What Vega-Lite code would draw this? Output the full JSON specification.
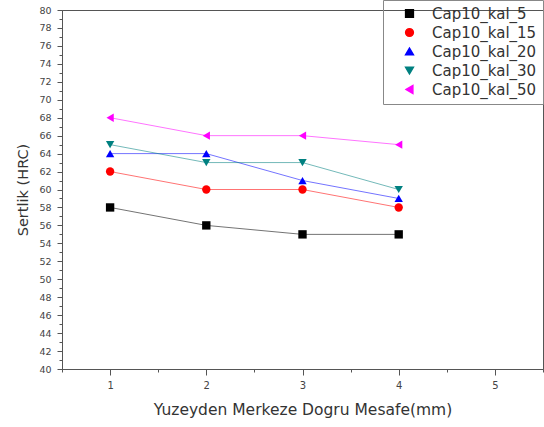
{
  "$schema": "https://vega.github.io/schema/vega-lite/v6.json",
  "autosize": "none",
  "width": 481,
  "height": 359,
  "padding": {"left": 62, "top": 10, "right": 1, "bottom": 58},
  "background": "white",
  "config": {
    "font": "DejaVu Sans",
    "view": {"stroke": "#555", "strokeWidth": 1},
    "axis": {"domainColor": "#555", "tickColor": "#555", "labelColor": "#444", "titleColor": "#333", "labelFont": "DejaVu Sans", "titleFont": "DejaVu Sans", "titleFontWeight": "normal", "grid": false}
  },
  "data": {"values": [
    {"x": 1, "y": 58, "s": "Cap10_kal_5"}, {"x": 2, "y": 56, "s": "Cap10_kal_5"}, {"x": 3, "y": 55, "s": "Cap10_kal_5"}, {"x": 4, "y": 55, "s": "Cap10_kal_5"},
    {"x": 1, "y": 62, "s": "Cap10_kal_15"}, {"x": 2, "y": 60, "s": "Cap10_kal_15"}, {"x": 3, "y": 60, "s": "Cap10_kal_15"}, {"x": 4, "y": 58, "s": "Cap10_kal_15"},
    {"x": 1, "y": 64, "s": "Cap10_kal_20"}, {"x": 2, "y": 64, "s": "Cap10_kal_20"}, {"x": 3, "y": 61, "s": "Cap10_kal_20"}, {"x": 4, "y": 59, "s": "Cap10_kal_20"},
    {"x": 1, "y": 65, "s": "Cap10_kal_30"}, {"x": 2, "y": 63, "s": "Cap10_kal_30"}, {"x": 3, "y": 63, "s": "Cap10_kal_30"}, {"x": 4, "y": 60, "s": "Cap10_kal_30"},
    {"x": 1, "y": 68, "s": "Cap10_kal_50"}, {"x": 2, "y": 66, "s": "Cap10_kal_50"}, {"x": 3, "y": 66, "s": "Cap10_kal_50"}, {"x": 4, "y": 65, "s": "Cap10_kal_50"}
  ]},
  "encoding": {
    "x": {"field": "x", "type": "quantitative", "scale": {"domain": [0.5, 5.5], "nice": false, "zero": false},
      "axis": {"title": "Yuzeyden Merkeze Dogru Mesafe(mm)", "values": [0.5, 1, 1.5, 2, 2.5, 3, 3.5, 4, 4.5, 5, 5.5],
        "labelExpr": "datum.value % 1 == 0 ? format(datum.value, 'd') : ''",
        "tickSize": {"condition": {"test": "datum.value % 1 == 0", "value": 6}, "value": 3},
        "labelFontSize": 10, "titleFontSize": 15.5, "titlePadding": 12, "labelPadding": 5}},
    "y": {"field": "y", "type": "quantitative", "scale": {"domain": [40, 80], "nice": false, "zero": false},
      "axis": {"title": "Sertlik (HRC)", "values": [40,41,42,43,44,45,46,47,48,49,50,51,52,53,54,55,56,57,58,59,60,61,62,63,64,65,66,67,68,69,70,71,72,73,74,75,76,77,78,79,80],
        "labelExpr": "datum.value % 2 == 0 ? datum.label : ''",
        "tickSize": {"condition": {"test": "datum.value % 2 == 0", "value": 5}, "value": 3},
        "labelFontSize": 9.5, "titleFontSize": 14.5, "titlePadding": 8, "labelPadding": 6}},
    "color": {"field": "s", "type": "nominal",
      "scale": {"domain": ["Cap10_kal_5", "Cap10_kal_15", "Cap10_kal_20", "Cap10_kal_30", "Cap10_kal_50"], "range": ["#000000", "#ff0000", "#0000ff", "#008080", "#ff00ff"]},
      "legend": {"title": null, "orient": "none", "legendX": 321, "legendY": -10, "strokeColor": "#888", "padding": 6, "labelFontSize": 15, "labelColor": "#333", "symbolSize": 60, "symbolOpacity": 1, "rowPadding": 3, "labelOffset": 15, "symbolOffset": 13,
        "encode": {"symbols": {"update": {
          "shape": {"signal": "datum.value == 'Cap10_kal_5' ? 'M-1,-1H1V1H-1Z' : datum.value == 'Cap10_kal_15' ? 'M1,0A1,1,0,1,1,-1,0A1,1,0,1,1,1,0Z M-5,-0.11H-1V0.11H-5Z M1,-0.11H5V0.11H1Z' : datum.value == 'Cap10_kal_20' ? 'M0,-1L1,0.8H-1Z M-5,-0.11H-1V0.11H-5Z M1,-0.11H5V0.11H1Z' : datum.value == 'Cap10_kal_30' ? 'M0,1L1,-0.8H-1Z M-5,-0.11H-1V0.11H-5Z M1,-0.11H5V0.11H1Z' : 'M-1,0L0.8,-1V1Z M-5,-0.11H-1V0.11H-5Z M1,-0.11H5V0.11H1Z'"},
          "fillOpacity": {"value": 1}
        }}}}}
  },
  "layer": [
    {"mark": {"type": "line", "strokeWidth": 1, "opacity": 0.55}},
    {"mark": {"type": "point", "filled": true, "size": 70, "opacity": 1},
     "encoding": {
       "shape": {"field": "s", "type": "nominal", "legend": null, "scale": {"domain": ["Cap10_kal_5", "Cap10_kal_15", "Cap10_kal_20", "Cap10_kal_30", "Cap10_kal_50"], "range": ["square", "circle", "triangle-up", "triangle-down", "triangle-left"]}}
     }}
  ]
}
